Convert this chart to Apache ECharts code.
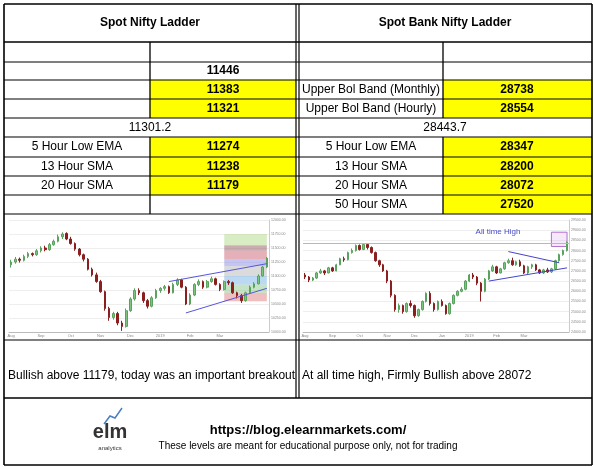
<!DOCTYPE html>
<html><head><meta charset="utf-8">
<script src="https://cdn.jsdelivr.net/npm/echarts@6/dist/echarts.min.js"></script>
<style>html,body{margin:0;padding:0;background:#fff}#c{width:593px;height:467px}</style>
</head><body><div id="c"></div>
<script>
// ---- table data ----
const leftTitle = "Spot Nifty Ladder";
const rightTitle = "Spot Bank Nifty Ladder";
const leftLevels = ["11446","11383","11321"];
const leftSpot = "11301.2";
const leftSupportLabels = ["5 Hour Low EMA","13 Hour SMA","20 Hour SMA"];
const leftSupportValues = ["11274","11238","11179"];
const rightResLabels = ["Upper Bol Band (Monthly)","Upper Bol Band (Hourly)"];
const rightResValues = ["28738","28554"];
const rightSpot = "28443.7";
const rightSupportLabels = ["5 Hour Low EMA","13 Hour SMA","20 Hour SMA","50 Hour SMA"];
const rightSupportValues = ["28347","28200","28072","27520"];
const leftComment = "Bullish above 11179, today was an important breakout";
const rightComment = "At all time high, Firmly Bullish above 28072";
const footerUrl = "https://blog.elearnmarkets.com/";
const footerNote = "These levels are meant for educational purpose only, not for trading";

// ---- mini chart data [open, close, low, high] ----
const niftyMonths = ["Aug","Sep","Oct","Nov","Dec","2019","Feb","Mar"];
const niftyOHLC = [
[11200,11250,11150,11290],[11250,11300,11220,11340],[11300,11280,11240,11330],[11280,11350,11260,11380],
[11350,11400,11320,11430],[11400,11380,11350,11420],[11380,11450,11360,11480],[11450,11500,11420,11530],
[11500,11470,11440,11540],[11470,11560,11450,11590],[11560,11620,11540,11650],[11620,11700,11600,11740],
[11700,11750,11660,11780],[11760,11660,11640,11780],[11660,11580,11560,11700],[11580,11480,11450,11600],
[11480,11380,11350,11500],[11380,11300,11260,11400],[11300,11120,11100,11320],[11120,11020,10990,11150],
[11020,10900,10880,11060],[10900,10720,10700,10930],[10720,10420,10380,10740],[10420,10260,10200,10450],
[10260,10330,10220,10360],[10330,10160,10120,10360],[10160,10100,10020,10200],[10100,10380,10080,10420],
[10380,10590,10360,10620],[10590,10740,10560,10780],[10740,10700,10660,10780],[10700,10560,10520,10720],
[10560,10460,10420,10590],[10460,10610,10440,10640],[10610,10740,10590,10770],[10740,10780,10700,10800],
[10780,10810,10740,10840],[10810,10700,10680,10830],[10700,10850,10690,10880],[10850,10930,10820,10960],
[10930,10800,10780,10950],[10800,10500,10480,10820],[10500,10660,10480,10690],[10660,10850,10640,10870],
[10850,10900,10820,10940],[10900,10800,10770,10920],[10800,10900,10780,10930],[10900,10950,10880,10990],
[10950,10850,10830,10970],[10850,10760,10730,10870],[10760,10900,10740,10920],[10900,10880,10840,10930],
[10880,10700,10680,10900],[10700,10650,10600,10720],[10650,10560,10520,10680],[10560,10700,10540,10720],
[10700,10800,10690,10830],[10800,10860,10780,10890],[10860,11000,10850,11030],[11000,11160,10990,11180],
[11160,11320,11140,11340]];
const bankMonths = ["Aug","Sep","Oct","Nov","Dec","Jan","2019","Feb","Mar"];
const bankOHLC = [
[26800,26700,26600,26900],[26700,26550,26450,26750],[26550,26650,26500,26700],[26650,26900,26600,26950],
[26900,27000,26850,27100],[27000,26900,26800,27050],[26900,27150,26880,27200],[27150,27000,26950,27200],
[27000,27300,26980,27350],[27300,27600,27280,27650],[27600,27550,27450,27700],[27550,27900,27520,27950],
[27900,28000,27850,28100],[28000,28250,27950,28300],[28250,28050,28000,28300],[28050,28300,28020,28350],
[28300,28150,28050,28330],[28150,27900,27850,28200],[27900,27500,27450,27950],[27500,27300,27200,27550],
[27300,27000,26950,27350],[27000,26500,26400,27050],[26500,25800,25700,26550],[25800,25100,25000,25850],
[25100,25300,24950,25400],[25300,25000,24900,25350],[25000,25400,24950,25450],[25400,25300,25200,25550],
[25300,24800,24700,25350],[24800,25100,24750,25150],[25100,25500,25050,25550],[25500,25900,25450,25950],
[25900,25400,25300,26000],[25400,25100,25000,25450],[25100,25500,25050,25550],[25500,25300,25250,25600],
[25300,24900,24850,25350],[24900,25400,24850,25450],[25400,25800,25350,25850],[25800,26000,25750,26050],
[26000,26100,25950,26200],[26100,26500,26050,26550],[26500,26800,26450,26850],[26800,26700,26600,26900],
[26700,26400,26300,26750],[26400,26000,25500,26450],[26000,26600,25950,26650],[26600,27000,26550,27050],
[27000,27200,26950,27300],[27200,26900,26850,27250],[26900,27100,26880,27150],[27100,27400,27050,27450],
[27400,27500,27350,27600],[27500,27300,27250,27650],[27300,27450,27250,27500],[27450,27250,27200,27550],
[27250,26900,26850,27300],[26900,27200,26850,27250],[27200,27300,27100,27350],[27300,27050,27000,27350],
[27050,26900,26850,27100],[26900,27050,26850,27100],[27050,26950,26900,27150],[26950,27100,26900,27150],
[27100,27500,27050,27550],[27500,27800,27450,27850],[27800,28000,27750,28050],[28000,28400,27950,28450]];
const fibLevels = [10550,10700,10850,11000,11180,11300,11450,11550,11750];
const fibColors = ['rgba(220,110,110,0.45)','rgba(140,200,140,0.5)','rgba(120,180,230,0.5)','rgba(190,190,190,0.55)','rgba(150,150,235,0.55)','rgba(200,80,100,0.45)','rgba(150,90,100,0.5)','rgba(180,220,140,0.5)'];

function cats(n){const a=[];for(let i=0;i<n;i++)a.push(String(i));return a;}
function monthLabel(months,n){return (v,i)=>{const step=Math.floor(n/months.length);return i%step===0?(months[i/step]||''):''};}

const chart = echarts.init(document.getElementById('c'));
const G=[];
const line=(x1,y1,x2,y2,w)=>G.push({type:'line',shape:{x1,y1,x2,y2},style:{stroke:'#000',lineWidth:w||1.3},z:10});
const txt=(x,y,t,o)=>G.push(Object.assign({type:'text',x,y,style:Object.assign({text:t,fill:'#000',font:'12px "Liberation Sans", Arial',textVerticalAlign:'middle',textAlign:'center'},o||{})},{z:11}));
const fill=(x,y,w,h,c)=>G.push({type:'rect',shape:{x,y,width:w,height:h},style:{fill:c},z:1});
const Y='#ffff00';
fill(150,80,146,38,Y); fill(150,137,146,58,Y);
fill(443,80,149,38,Y); fill(443,137,149,77,Y);
[4,42,62,80,99,118,137,157,176,195,214,340,398,465].forEach(y=>line(4,y,592,y,(y===4||y===465||y===398||y===42)?1.6:1.2));
line(4,4,4,465,1.6); line(592,4,592,465,1.6);
line(296,4,296,398,1.2); line(299,4,299,398,1.2);
line(150,42,150,118); line(150,137,150,214);
line(443,42,443,118); line(443,137,443,214);
txt(150,23,leftTitle,{font:'bold 12px "Liberation Sans", Arial'});
txt(445,23,rightTitle,{font:'bold 12px "Liberation Sans", Arial'});
const rowsY=[71,89.5,108.5];
leftLevels.forEach((v,i)=>txt(223,rowsY[i],v,{font:'bold 12px "Liberation Sans", Arial'}));
rightResLabels.forEach((v,i)=>txt(371,rowsY[i+1],v));
rightResValues.forEach((v,i)=>txt(517,rowsY[i+1],v,{font:'bold 12px "Liberation Sans", Arial'}));
txt(150,127.5,leftSpot); txt(445,127.5,rightSpot);
const sY=[147,166.5,185.5,204.5];
leftSupportLabels.forEach((v,i)=>txt(77,sY[i],v));
leftSupportValues.forEach((v,i)=>txt(223,sY[i],v,{font:'bold 12px "Liberation Sans", Arial'}));
rightSupportLabels.forEach((v,i)=>txt(371,sY[i],v));
rightSupportValues.forEach((v,i)=>txt(517,sY[i],v,{font:'bold 12px "Liberation Sans", Arial'}));
txt(8,376,leftComment,{textAlign:'left'});
txt(302,376,rightComment,{textAlign:'left'});
txt(308,430,footerUrl,{font:'bold 13px "Liberation Sans", Arial'});
txt(308,446,footerNote,{font:'10px "Liberation Sans", Arial'});
txt(110,432,'elm',{font:'bold 20px "Liberation Sans", Arial',fill:'#333'});
txt(110,448,'analytics',{font:'6px "Liberation Sans", Arial',fill:'#333'});
G.push({type:'polyline',shape:{points:[[104,424],[110,416],[115,418],[122,408]]},style:{stroke:'#4a7fc1',lineWidth:1.5,fill:null},z:11});
txt(498,232,'All time High',{font:'8px "Liberation Sans", Arial',fill:'#4a4acc'});

const axisCommon=(months,n)=>({type:'category',data:cats(n),boundaryGap:true,axisLine:{lineStyle:{color:'#bbb'}},axisTick:{show:false},
  axisLabel:{fontSize:4,color:'#888',margin:2,interval:0,formatter:monthLabel(months,n)},splitLine:{show:false}});
const nN=niftyOHLC.length, bN=bankOHLC.length;
const sty={color:'#7cc47f',color0:'#8b1f1f',borderColor:'#5aa35e',borderColor0:'#8b1f1f'};
const fibData=fibColors.map((c,i)=>[{xAxis:'50',yAxis:fibLevels[i],itemStyle:{color:c}},{xAxis:String(nN-1),yAxis:fibLevels[i+1]}]);
const option={
 animation:false,backgroundColor:'#fff',
 grid:[{left:9,top:220,width:260,height:112},{left:303,top:220,width:266,height:112}],
 xAxis:[Object.assign({gridIndex:0},axisCommon(niftyMonths,nN)),Object.assign({gridIndex:1},axisCommon(bankMonths,bN))],
 yAxis:[
  {gridIndex:0,position:'right',min:10000,max:12000,interval:250,axisLabel:{fontSize:3.5,color:'#888',margin:2,formatter:v=>v.toFixed(2)},splitLine:{lineStyle:{color:'#eee'}},axisLine:{show:true,lineStyle:{color:'#ccc'}}},
  {gridIndex:1,position:'right',min:24000,max:29500,interval:500,axisLabel:{fontSize:3.5,color:'#888',margin:2,formatter:v=>v.toFixed(2)},splitLine:{lineStyle:{color:'#eee'}},axisLine:{show:true,lineStyle:{color:'#ccc'}}}],
 series:[
  {type:'candlestick',xAxisIndex:0,yAxisIndex:0,data:niftyOHLC,barMaxWidth:3,itemStyle:sty,
   markArea:{silent:true,data:fibData},
   markLine:{silent:true,symbol:'none',label:{show:false},lineStyle:{color:'#5555dd',type:'solid',width:1},data:[
     [{coord:['37',10900]},{coord:[String(nN-1),11220]}],
     [{coord:['41',10340]},{coord:[String(nN-1),10780]}]]}},
  {type:'candlestick',xAxisIndex:1,yAxisIndex:1,data:bankOHLC,barMaxWidth:3,itemStyle:sty,
   markLine:{silent:true,symbol:'none',label:{show:false},data:[
     {yAxis:28350,lineStyle:{color:'#d9a0e0',type:'solid',width:1}},
     [{coord:['52',27950],lineStyle:{color:'#4444cc',type:'solid',width:1}},{coord:[String(bN-3),27400]}],
     [{coord:['47',26500],lineStyle:{color:'#4444cc',type:'solid',width:1}},{coord:[String(bN-1),27150]}]]},
   markArea:{silent:true,itemStyle:{color:'rgba(220,180,240,0.3)',borderColor:'#b070d0',borderWidth:1},data:[[{xAxis:String(bN-5),yAxis:28200},{xAxis:String(bN-1),yAxis:28900}]]}}
 ],
 graphic:G
};
chart.setOption(option);
</script></body></html>
